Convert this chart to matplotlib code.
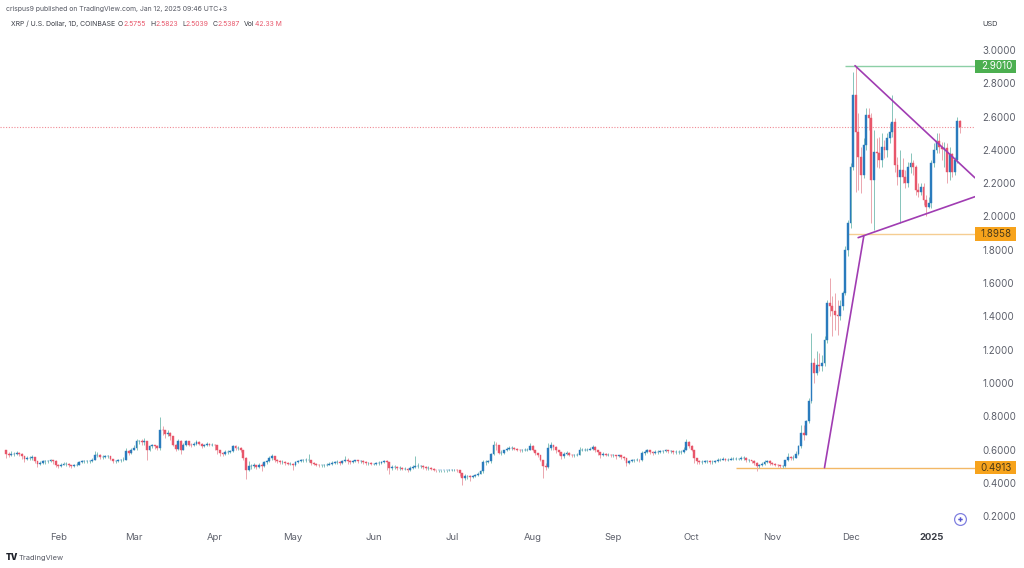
import matplotlib
matplotlib.use('Agg')
import matplotlib.pyplot as plt
import matplotlib.dates as mdates
import numpy as np
import pandas as pd
from matplotlib.patches import Rectangle

plt.rcParams['font.family'] = ['Inter', 'DejaVu Sans']

# daily candles from 2024-01-12
first_open = 0.60
closes = [
    .575, .57, .575, .575, .58, .575, .56, .545, .55, .55,
    .555, .53, .515, .52, .53, .53, .53, .535, .53, .505,
    .50, .51, .515, .515, .505, .50, .505, .51, .525, .53,
    .53, .53, .53, .54, .565, .57, .555, .555, .56, .56,
    .545, .53, .53, .535, .535, .54, .59, .58, .60, .61,
    .65, .65, .645, .65, .595, .62, .625, .62, .61, .72,
    .715, .695, .70, .68, .63, .605, .65, .60, .625, .65,
    .63, .625, .635, .645, .635, .62, .625, .635, .63, .63,
    .625, .60, .58, .575, .585, .585, .59, .62, .61, .61,
    .60, .55, .48, .50, .50, .505, .495, .505, .50, .525,
    .53, .55, .56, .54, .53, .525, .525, .52, .515, .515,
    .505, .525, .53, .535, .535, .535, .535, .52, .515, .51,
    .505, .505, .505, .51, .515, .52, .525, .525, .52, .53,
    .54, .53, .525, .53, .535, .53, .53, .525, .52, .52,
    .515, .515, .52, .52, .525, .53, .525, .49, .495, .495,
    .49, .49, .485, .485, .475, .49, .495, .50, .50, .50,
    .495, .49, .49, .485, .48, .475, .475, .475, .475, .475,
    .48, .48, .48, .475, .46, .43, .44, .44, .435, .44,
    .445, .455, .47, .525, .525, .53, .575, .63, .625, .58,
    .58, .595, .605, .61, .61, .605, .60, .595, .595, .60,
    .60, .62, .60, .58, .565, .54, .50, .495, .61, .625,
    .615, .60, .585, .56, .575, .58, .57, .565, .565, .57,
    .60, .60, .60, .60, .605, .615, .60, .585, .565, .575,
    .57, .57, .565, .565, .56, .565, .555, .55, .52, .53,
    .535, .535, .54, .535, .58, .585, .595, .585, .58, .585,
    .585, .59, .59, .595, .59, .59, .585, .585, .585, .585,
    .60, .645, .62, .60, .55, .53, .525, .525, .53, .53,
    .525, .525, .53, .54, .54, .545, .54, .54, .545, .545,
    .545, .545, .55, .55, .535, .535, .53, .52, .50, .505,
    .515, .525, .53, .52, .515, .51, .505, .50, .50, .535,
    .555, .55, .55, .575, .62, .70, .69, .77, .89, 1.12,
    1.06, 1.11, 1.105, 1.12, 1.26, 1.48, 1.46, 1.43, 1.41, 1.40,
    1.46, 1.54, 1.80, 1.96, 2.30, 2.73, 2.51, 2.36, 2.25, 2.43,
    2.61, 2.59, 2.22, 2.39, 2.38, 2.34, 2.42, 2.40, 2.47, 2.51,
    2.57, 2.31, 2.24, 2.28, 2.24, 2.20, 2.30, 2.32, 2.30, 2.16,
    2.15, 2.18, 2.10, 2.06, 2.08, 2.32, 2.40, 2.455, 2.42, 2.405,
    2.41, 2.27, 2.375, 2.27, 2.34, 2.575, 2.5387,
]
highs = [
    .60, .585, .59, .585, .59, .585, .58, .56, .56, .56,
    .57, .555, .53, .53, .54, .54, .54, .545, .54, .535,
    .515, .52, .525, .525, .52, .51, .515, .525, .53, .54,
    .54, .54, .54, .55, .59, .585, .575, .565, .57, .57,
    .56, .545, .54, .545, .545, .555, .61, .60, .61, .625,
    .665, .66, .665, .67, .65, .63, .635, .63, .625, .795,
    .74, .72, .715, .705, .68, .635, .665, .655, .64, .66,
    .65, .64, .645, .66, .65, .64, .635, .645, .64, .64,
    .635, .625, .60, .585, .595, .595, .60, .63, .625, .62,
    .615, .60, .555, .53, .515, .52, .51, .52, .52, .53,
    .54, .56, .575, .56, .545, .535, .535, .53, .525, .525,
    .52, .53, .54, .545, .545, .55, .575, .54, .525, .52,
    .515, .515, .515, .52, .525, .53, .53, .535, .53, .535,
    .56, .55, .535, .54, .54, .54, .54, .535, .53, .525,
    .525, .52, .525, .53, .53, .54, .535, .525, .505, .505,
    .50, .50, .495, .495, .49, .50, .505, .56, .52, .51,
    .505, .50, .50, .495, .49, .48, .48, .48, .48, .48,
    .485, .485, .485, .485, .475, .46, .455, .45, .445, .45,
    .455, .465, .48, .535, .54, .54, .58, .65, .645, .63,
    .595, .60, .615, .62, .62, .615, .61, .605, .605, .61,
    .61, .64, .625, .60, .58, .565, .54, .52, .64, .645,
    .63, .62, .60, .585, .585, .59, .585, .575, .575, .58,
    .615, .61, .61, .61, .615, .625, .62, .60, .585, .585,
    .58, .58, .575, .575, .57, .57, .565, .56, .55, .54,
    .545, .545, .55, .545, .59, .595, .605, .60, .59, .595,
    .595, .60, .60, .605, .60, .60, .595, .595, .595, .595,
    .615, .665, .65, .625, .60, .54, .535, .535, .54, .54,
    .535, .535, .54, .55, .55, .555, .55, .55, .555, .555,
    .555, .55, .56, .56, .555, .545, .54, .535, .525, .515,
    .525, .535, .54, .535, .525, .52, .515, .51, .51, .54,
    .58, .56, .565, .59, .63, .75, .75, .775, .91, 1.30,
    1.15, 1.19, 1.18, 1.17, 1.28, 1.50, 1.63, 1.52, 1.54, 1.50,
    1.50, 1.55, 1.82, 1.98, 2.32, 2.87, 2.90, 2.62, 2.42, 2.47,
    2.65, 2.65, 2.62, 2.52, 2.47, 2.48, 2.50, 2.46, 2.50, 2.56,
    2.73, 2.59, 2.36, 2.40, 2.35, 2.28, 2.33, 2.38, 2.34, 2.31,
    2.20, 2.20, 2.20, 2.13, 2.12, 2.34, 2.44, 2.50, 2.50, 2.45,
    2.45, 2.44, 2.42, 2.38, 2.36, 2.60, 2.5823,
]
lows = [
    .55, .555, .56, .56, .57, .56, .545, .525, .535, .54,
    .54, .52, .495, .505, .515, .515, .52, .525, .515, .495,
    .49, .495, .505, .50, .495, .49, .495, .50, .505, .52,
    .52, .52, .52, .525, .535, .555, .545, .545, .55, .55,
    .535, .52, .52, .525, .525, .53, .535, .565, .575, .60,
    .60, .635, .63, .63, .54, .59, .61, .605, .60, .60,
    .69, .67, .68, .66, .62, .59, .60, .575, .595, .62,
    .62, .615, .62, .63, .625, .61, .615, .62, .62, .62,
    .60, .575, .56, .56, .57, .575, .58, .585, .60, .60,
    .585, .54, .425, .47, .485, .49, .485, .49, .47, .495,
    .515, .525, .54, .525, .52, .515, .515, .51, .505, .505,
    .48, .50, .52, .525, .525, .525, .525, .51, .505, .50,
    .495, .495, .495, .50, .505, .51, .515, .515, .505, .515,
    .525, .515, .515, .52, .525, .52, .52, .515, .51, .51,
    .505, .505, .51, .51, .515, .52, .48, .455, .48, .485,
    .48, .48, .475, .475, .465, .47, .485, .49, .49, .49,
    .485, .48, .48, .475, .47, .465, .465, .465, .465, .465,
    .47, .47, .47, .465, .44, .39, .42, .425, .41, .43,
    .435, .44, .455, .46, .51, .52, .52, .57, .60, .575,
    .565, .575, .59, .60, .60, .595, .59, .585, .585, .59,
    .59, .595, .59, .57, .555, .53, .43, .475, .49, .60,
    .60, .58, .565, .545, .55, .565, .56, .555, .555, .56,
    .565, .59, .59, .59, .595, .60, .585, .57, .55, .56,
    .56, .56, .555, .555, .545, .555, .545, .54, .50, .515,
    .525, .525, .53, .525, .53, .57, .58, .575, .57, .575,
    .575, .58, .58, .585, .58, .58, .575, .575, .575, .575,
    .58, .595, .61, .59, .52, .515, .515, .515, .52, .52,
    .515, .515, .52, .525, .53, .535, .53, .53, .535, .535,
    .535, .535, .54, .54, .525, .525, .52, .505, .47, .49,
    .50, .51, .52, .51, .505, .50, .495, .49, .49, .495,
    .53, .54, .54, .55, .57, .61, .66, .69, .76, .88,
    1.00, 1.05, 1.07, 1.07, 1.10, 1.24, 1.40, 1.28, 1.32, 1.29,
    1.38, 1.44, 1.53, 1.76, 1.93, 2.28, 2.15, 2.16, 2.14, 2.23,
    2.40, 2.52, 1.96, 1.92, 2.30, 2.29, 2.30, 2.35, 2.36, 2.44,
    2.48, 2.27, 2.19, 1.96, 2.20, 2.17, 2.18, 2.26, 2.25, 2.13,
    2.12, 2.13, 2.07, 2.00, 2.05, 2.05, 2.30, 2.38, 2.38, 2.34,
    2.30, 2.20, 2.22, 2.24, 2.25, 2.32, 2.5039,
]

month_dates = ['2024-02-01', '2024-03-01', '2024-04-01', '2024-05-01', '2024-06-01', '2024-07-01',
               '2024-08-01', '2024-09-01', '2024-10-01', '2024-11-01', '2024-12-01', '2025-01-01']
month_labels = ['Feb', 'Mar', 'Apr', 'May', 'Jun', 'Jul', 'Aug', 'Sep', 'Oct', 'Nov', 'Dec', '2025']
price_ticks = [0.2, 0.4, 0.6, 0.8, 1.0, 1.2, 1.4, 1.6, 1.8, 2.0, 2.2, 2.4, 2.6, 2.8, 3.0]

last_close = 2.5387
resistance = 2.9010
support = 1.8958
base = 0.4913

# drawn trend lines: (date, price) pairs
pole = [('2024-11-21 00:00', base), ('2024-12-06 02:00', 1.883)]
upper_line = [('2024-12-02 17:00', 2.906), ('2025-01-17 18:00', 2.232)]
lower_line = [('2024-12-03 22:00', 1.873), ('2025-01-17 18:00', 2.119)]

BLUE = '#2a7bbd'
RED = '#e8566a'
WICK_UP = '#86c4ba'
WICK_DOWN = '#eba6ae'
PURPLE = '#a03cb2'
GREY = '#5d606b'


def line_xy(points):
    xs = mdates.date2num([pd.Timestamp(p[0]) for p in points])
    return xs, [p[1] for p in points]


def price_tag(ax, price, text, face, color):
    # box sits just right of the plot, in the price column
    ax.add_patch(Rectangle((1.0, price - 0.04), 41 / 975, 0.08, transform=ax.get_yaxis_transform(),
                           facecolor=face, edgecolor='none', clip_on=False, zorder=5))
    ax.text(1.0 + 21.5 / 975, price, text, transform=ax.get_yaxis_transform(), ha='center', va='center',
            fontsize=7, color=color, clip_on=False, zorder=6)


dates = pd.date_range('2024-01-12', periods=len(closes), freq='D')
x = mdates.date2num(dates)
closes = np.array(closes)
opens = np.r_[first_open, closes[:-1]]
highs = np.array(highs)
lows = np.array(lows)
up = closes >= opens

fig = plt.figure(figsize=(10.24, 5.68), dpi=100)
ax = fig.add_axes([0, 43 / 568, 975 / 1024, 525 / 568])

ax.vlines(x[up], lows[up], highs[up], color=WICK_UP, lw=0.7, zorder=2)
ax.vlines(x[~up], lows[~up], highs[~up], color=WICK_DOWN, lw=0.7, zorder=2)
ax.bar(x[up], (closes - opens)[up], bottom=opens[up], width=0.72, color=BLUE, edgecolor=BLUE, lw=0.3, zorder=3)
ax.bar(x[~up], (closes - opens)[~up], bottom=opens[~up], width=0.72, color=RED, edgecolor=RED, lw=0.3, zorder=3)

ax.set_xlim(x[0] - 2.38, x[-1] + 5.75)
ax.set_ylim(0.1471, 3.3003)

x_end = ax.get_xlim()[1]
ax.axhline(last_close, color='#f08a94', lw=0.8, ls=(0, (1, 1.5)), zorder=1)
ax.hlines(resistance, mdates.date2num(pd.Timestamp('2024-11-28 20:00')), x_end, color='#8ccfa6', lw=1, zorder=1)
ax.hlines(support, mdates.date2num(pd.Timestamp('2024-11-30')), x_end, color='#f5cd92', lw=1, zorder=1)
ax.hlines(base, mdates.date2num(pd.Timestamp('2024-10-18')), x_end, color='#f3b866', lw=1, zorder=1)

for points in (pole, upper_line, lower_line):
    lx, ly = line_xy(points)
    ax.plot(lx, ly, color=PURPLE, lw=1.2, zorder=4, solid_capstyle='round')

ax.yaxis.tick_right()
ax.set_yticks(price_ticks)
ax.set_yticklabels(['%.4f' % p for p in price_ticks], fontsize=7, color=GREY)
ax.tick_params(axis='y', length=0, pad=5.5)

ax.set_xticks(mdates.date2num([pd.Timestamp(d) for d in month_dates]))
ax.set_xticklabels(month_labels, fontsize=6.8, color=GREY)
ax.tick_params(axis='x', length=0, pad=5.5)
ax.get_xticklabels()[-1].set_fontweight('bold')
ax.get_xticklabels()[-1].set_color('#3a3d46')

for spine in ax.spines.values():
    spine.set_visible(False)

price_tag(ax, resistance, '2.9010', '#4caf50', 'white')
price_tag(ax, support, '1.8958', '#f7a31c', '#4a3a1a')
price_tag(ax, base, '0.4913', '#f7a31c', '#4a3a1a')

# small round marker near the bottom right
ax.plot([960 / 975], [6 / 525], transform=ax.transAxes, marker='o', ms=8.5, mfc='white', mec='#8080e0', mew=0.9,
        clip_on=False, zorder=6)
ax.plot([960 / 975], [6 / 525], transform=ax.transAxes, marker='P', ms=3.2, color='#5555d0', mew=0,
        clip_on=False, zorder=7)


def fig_text(px, py, s, **kw):
    kw.setdefault('fontsize', 4.95)
    kw.setdefault('color', '#555863')
    fig.text(px / 1024, 1 - py / 568, s, va='center', **kw)


fig_text(6, 9, 'crispus9 published on TradingView.com, Jan 12, 2025 09:46 UTC+3')
header = [(11, 'XRP / U.S. Dollar, 1D, COINBASE', '#3a3d46'), (118, 'O', '#3a3d46'), (123, '2.5755', RED),
          (150, 'H', '#3a3d46'), (155, '2.5823', RED), (182, 'L', '#3a3d46'), (186, '2.5039', RED),
          (213, 'C', '#3a3d46'), (218, '2.5387', RED), (244, 'Vol', '#3a3d46'), (255, '42.33 M', RED)]
for hx, s, c in header:
    fig_text(hx, 24, s, color=c)
fig_text(982, 24, 'USD', fontsize=5.3, color='#3a3d46')
fig_text(6, 558, 'TV', fontsize=6, fontweight='black', color='#20232b')
fig_text(19, 558, 'TradingView', fontsize=5.4, color='#555863')

fig.savefig('out.png', dpi=100)
